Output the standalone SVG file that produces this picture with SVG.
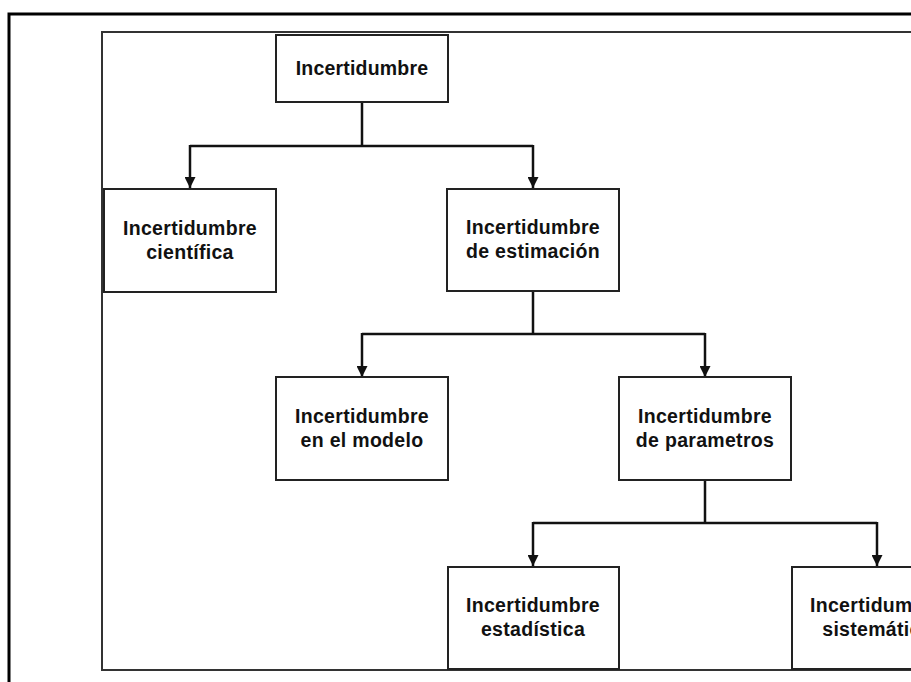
<svg xmlns="http://www.w3.org/2000/svg" width="911" height="682" viewBox="0 0 911 682">
<style>
.node rect{fill:#fff;stroke:#222;stroke-width:2}
.node text{font-family:"Liberation Sans",Arial,sans-serif;font-weight:bold;font-size:19.5px;fill:#111;text-anchor:middle;letter-spacing:0.3px}
.conn{fill:none;stroke:#111;stroke-width:2.5}
</style>
<defs>
<marker id="ah" viewBox="0 0 10 10" refX="10" refY="5" markerWidth="11" markerHeight="11" markerUnits="userSpaceOnUse" orient="auto">
<path d="M0,0 L10,5 L0,10 Z" fill="#111"/>
</marker>
</defs>
<rect width="911" height="682" fill="#fff"/>
<rect x="9" y="14" width="1000" height="1000" fill="none" stroke="#000" stroke-width="3"/>
<rect x="102" y="32" width="900" height="638" fill="none" stroke="#333" stroke-width="2"/>
<g id="connectors">
<path class="conn" d="M362,102 V146 M190,146 H533"/>
<path class="conn" d="M190,145 V188" marker-end="url(#ah)"/>
<path class="conn" d="M533,145 V188" marker-end="url(#ah)"/>
<path class="conn" d="M533,291 V334 M362,334 H705"/>
<path class="conn" d="M362,333 V377" marker-end="url(#ah)"/>
<path class="conn" d="M705,333 V377" marker-end="url(#ah)"/>
<path class="conn" d="M705,480 V523 M533,523 H877"/>
<path class="conn" d="M533,522 V566" marker-end="url(#ah)"/>
<path class="conn" d="M877,522 V566" marker-end="url(#ah)"/>
</g>
<g id="n1" class="node"><rect x="276" y="35" width="172" height="67"/><text x="362" y="75" style="letter-spacing:0.2px">Incertidumbre</text></g>
<g id="n2" class="node"><rect x="104" y="189" width="172" height="103"/><text x="190" y="235">Incertidumbre</text><text x="190" y="259">científica</text></g>
<g id="n3" class="node"><rect x="447" y="189" width="172" height="102"/><text x="533" y="234">Incertidumbre</text><text x="533" y="258">de estimación</text></g>
<g id="n4" class="node"><rect x="276" y="377" width="172" height="103"/><text x="362" y="423">Incertidumbre</text><text x="362" y="447">en el modelo</text></g>
<g id="n5" class="node"><rect x="619" y="377" width="172" height="103"/><text x="705" y="423">Incertidumbre</text><text x="705" y="447">de parametros</text></g>
<g id="n6" class="node"><rect x="448" y="567" width="171" height="102"/><text x="533" y="612">Incertidumbre</text><text x="533" y="636">estadística</text></g>
<g id="n7" class="node"><rect x="792" y="567" width="171" height="102"/><text x="877" y="612">Incertidumbre</text><text x="877" y="636">sistemática</text></g>
</svg>
